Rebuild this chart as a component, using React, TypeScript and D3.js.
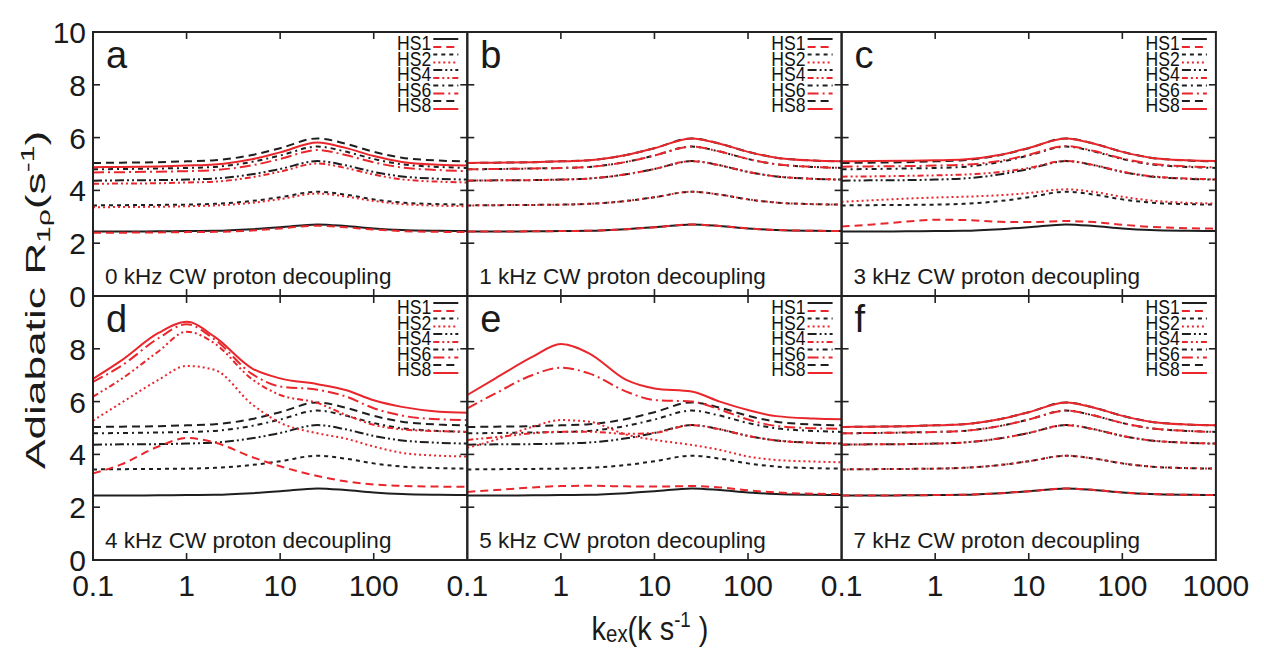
import React from 'react';
import * as d3 from 'd3';

// exchange-rate grid (k s^-1)
const KEX = [0.1, 0.2, 0.5, 1, 2, 5, 10, 25, 50, 100, 200, 500, 1000];

// black curves (same in every panel)
const BLACK_HS1 = [2.44, 2.44, 2.45, 2.46, 2.47, 2.53, 2.60, 2.71, 2.65, 2.56, 2.50, 2.47, 2.46];
const BLACK_HS2 = [3.43, 3.44, 3.45, 3.46, 3.49, 3.60, 3.74, 3.95, 3.84, 3.66, 3.54, 3.48, 3.46];
const BLACK_HS4 = [4.37, 4.38, 4.39, 4.41, 4.45, 4.61, 4.81, 5.11, 4.95, 4.70, 4.53, 4.44, 4.41];
const BLACK_HS6 = [4.80, 4.81, 4.83, 4.85, 4.89, 5.08, 5.32, 5.66, 5.47, 5.19, 4.99, 4.89, 4.85];
const BLACK_HS8 = [5.04, 5.05, 5.07, 5.10, 5.14, 5.34, 5.60, 5.97, 5.77, 5.46, 5.24, 5.13, 5.10];

// red curves, panel a (0 kHz)
const A_HS1 = [2.40, 2.40, 2.41, 2.42, 2.43, 2.48, 2.56, 2.66, 2.60, 2.52, 2.46, 2.43, 2.42];
const A_HS2 = [3.36, 3.37, 3.38, 3.40, 3.43, 3.53, 3.67, 3.88, 3.77, 3.60, 3.48, 3.42, 3.40];
const A_HS4 = [4.25, 4.26, 4.27, 4.30, 4.33, 4.50, 4.71, 5.02, 4.85, 4.60, 4.42, 4.33, 4.30];
const A_HS6 = [4.68, 4.69, 4.71, 4.73, 4.77, 4.95, 5.19, 5.53, 5.34, 5.06, 4.87, 4.77, 4.73];
const A_HS8 = [4.88, 4.89, 4.91, 4.94, 4.98, 5.18, 5.44, 5.81, 5.61, 5.30, 5.08, 4.97, 4.94];

// red curves, panel b (1 kHz) — coincide with black
const B_HS1 = [2.44, 2.44, 2.45, 2.46, 2.47, 2.53, 2.60, 2.71, 2.65, 2.56, 2.50, 2.47, 2.46];
const B_HS2 = [3.43, 3.44, 3.45, 3.46, 3.49, 3.60, 3.74, 3.95, 3.84, 3.66, 3.54, 3.48, 3.46];
const B_HS4 = [4.37, 4.38, 4.39, 4.41, 4.45, 4.61, 4.81, 5.11, 4.95, 4.70, 4.53, 4.44, 4.41];
const B_HS6 = [4.80, 4.81, 4.83, 4.85, 4.89, 5.08, 5.32, 5.66, 5.47, 5.19, 4.99, 4.89, 4.85];
const B_HS8 = [5.04, 5.05, 5.07, 5.10, 5.14, 5.34, 5.60, 5.97, 5.77, 5.46, 5.24, 5.13, 5.10];

// red curves, panel c (3 kHz)
const C_HS1 = [2.63, 2.70, 2.82, 2.89, 2.88, 2.81, 2.80, 2.84, 2.80, 2.70, 2.62, 2.57, 2.55];
const C_HS2 = [3.57, 3.62, 3.69, 3.73, 3.76, 3.82, 3.90, 4.04, 3.94, 3.76, 3.62, 3.53, 3.50];
const C_HS4 = [4.52, 4.53, 4.55, 4.57, 4.60, 4.70, 4.85, 5.12, 4.96, 4.71, 4.54, 4.45, 4.42];
const C_HS6 = [4.90, 4.91, 4.92, 4.94, 4.97, 5.12, 5.35, 5.68, 5.49, 5.21, 5.01, 4.91, 4.87];
const C_HS8 = [5.10, 5.11, 5.12, 5.14, 5.17, 5.35, 5.61, 5.97, 5.77, 5.46, 5.24, 5.14, 5.11];

// red curves, panel d (4 kHz)
const D_HS1 = [3.28, 3.62, 4.30, 4.62, 4.45, 3.90, 3.55, 3.18, 2.98, 2.86, 2.81, 2.78, 2.77];
const D_HS2 = [5.28, 5.95, 6.82, 7.35, 7.20, 5.90, 5.20, 4.80, 4.60, 4.30, 4.06, 3.95, 3.92];
const D_HS4 = [6.19, 6.85, 7.90, 8.65, 8.20, 6.85, 6.25, 5.95, 5.50, 5.12, 4.95, 4.88, 4.86];
const D_HS6 = [6.75, 7.35, 8.40, 8.93, 8.35, 7.05, 6.57, 6.45, 6.20, 5.75, 5.47, 5.33, 5.30];
const D_HS8 = [6.86, 7.55, 8.60, 9.02, 8.45, 7.26, 6.88, 6.66, 6.44, 6.05, 5.80, 5.62, 5.58];

// red curves, panel e (5 kHz)
const E_HS1 = [2.58, 2.65, 2.75, 2.80, 2.81, 2.79, 2.78, 2.80, 2.75, 2.64, 2.56, 2.51, 2.50];
const E_HS2 = [4.25, 4.55, 5.05, 5.30, 5.24, 4.75, 4.55, 4.36, 4.17, 3.92, 3.79, 3.73, 3.70];
const E_HS4 = [4.55, 4.65, 4.80, 4.86, 4.86, 4.78, 4.82, 5.11, 4.95, 4.70, 4.53, 4.44, 4.42];
const E_HS6 = [5.74, 6.31, 7.01, 7.28, 7.07, 6.38, 6.06, 6.00, 5.70, 5.32, 5.08, 4.99, 4.97];
const E_HS8 = [6.25, 6.88, 7.70, 8.18, 7.83, 6.82, 6.50, 6.38, 6.00, 5.68, 5.45, 5.36, 5.33];

// red curves, panel f (7 kHz) — coincide with black
const F_HS1 = [2.44, 2.44, 2.45, 2.46, 2.47, 2.53, 2.60, 2.71, 2.65, 2.56, 2.50, 2.47, 2.46];
const F_HS2 = [3.43, 3.44, 3.45, 3.46, 3.49, 3.60, 3.74, 3.95, 3.84, 3.66, 3.54, 3.48, 3.46];
const F_HS4 = [4.37, 4.38, 4.39, 4.41, 4.45, 4.61, 4.81, 5.11, 4.95, 4.70, 4.53, 4.44, 4.41];
const F_HS6 = [4.80, 4.81, 4.83, 4.85, 4.89, 5.08, 5.32, 5.66, 5.47, 5.19, 4.99, 4.89, 4.85];
const F_HS8 = [5.04, 5.05, 5.07, 5.10, 5.14, 5.34, 5.60, 5.97, 5.77, 5.46, 5.24, 5.13, 5.10];

const SERIES_LABELS = ['HS1', 'HS2', 'HS4', 'HS6', 'HS8'];
const PANEL_LETTERS = ['a', 'b', 'c', 'd', 'e', 'f'];
const PANEL_NOTES = [
  '0 kHz CW proton decoupling',
  '1 kHz CW proton decoupling',
  '3 kHz CW proton decoupling',
  '4 kHz CW proton decoupling',
  '5 kHz CW proton decoupling',
  '7 kHz CW proton decoupling',
];
const Y_TICKS = [0, 2, 4, 6, 8, 10];
const X_TICKS = [0.1, 1, 10, 100, 1000];
const X_TICK_LABELS = ['0.1', '1', '10', '100', '1000'];

const BLACK = [BLACK_HS1, BLACK_HS2, BLACK_HS4, BLACK_HS6, BLACK_HS8];
const RED = [
  [A_HS1, A_HS2, A_HS4, A_HS6, A_HS8],
  [B_HS1, B_HS2, B_HS4, B_HS6, B_HS8],
  [C_HS1, C_HS2, C_HS4, C_HS6, C_HS8],
  [D_HS1, D_HS2, D_HS4, D_HS6, D_HS8],
  [E_HS1, E_HS2, E_HS4, E_HS6, E_HS8],
  [F_HS1, F_HS2, F_HS4, F_HS6, F_HS8],
];

const BLACK_DASH = ['', '4,4', '9,3,2,3,2,3', '5,4,2,4', '8,5'];
const RED_DASH = ['8,5', '2,3', '6,3,2,3,2,3', '11,4,2,4', ''];
const BLACK_COLOR = '#1e1e1e';
const RED_COLOR = '#e8262b';
const FONT = '"Liberation Sans", Arial, sans-serif';

const LEFT = 93;
const PW = 374.3;
const TOP = 32;
const PH = 264;

export default function App() {
  const panels = PANEL_LETTERS.map((letter, i) => {
    const col = i % 3;
    const row = Math.floor(i / 3);
    const x0 = LEFT + col * PW;
    const y0 = TOP + row * PH;
    const x = d3.scaleLog().domain([0.1, 1000]).range([x0, x0 + PW]);
    const y = d3.scaleLinear().domain([0, 10]).range([y0 + PH, y0]);
    const line = d3
      .line<number>()
      .x((_, j) => x(KEX[j]))
      .y((v) => y(v))
      .curve(d3.curveMonotoneX);
    const right = x0 + PW;
    return (
      <g key={letter}>
        {BLACK.map((s, k) => (
          <path key={'b' + k} d={line(s) || ''} fill="none" stroke={BLACK_COLOR} strokeWidth={2} strokeDasharray={BLACK_DASH[k]} />
        ))}
        {RED[i].map((s, k) => (
          <path key={'r' + k} d={line(s) || ''} fill="none" stroke={RED_COLOR} strokeWidth={2} strokeDasharray={RED_DASH[k]} />
        ))}
        {/* ticks */}
        {Y_TICKS.slice(1, -1).map((t) => (
          <g key={'yt' + t}>
            <line x1={x0} x2={x0 + 7} y1={y(t)} y2={y(t)} stroke="#222" strokeWidth={1.6} />
            <line x1={right} x2={right - 7} y1={y(t)} y2={y(t)} stroke="#222" strokeWidth={1.6} />
          </g>
        ))}
        {X_TICKS.slice(1, -1).map((t) => (
          <g key={'xt' + t}>
            <line x1={x(t)} x2={x(t)} y1={y0 + PH} y2={y0 + PH - 7} stroke="#222" strokeWidth={1.6} />
            <line x1={x(t)} x2={x(t)} y1={y0} y2={y0 + 7} stroke="#222" strokeWidth={1.6} />
          </g>
        ))}
        <rect x={x0} y={y0} width={PW} height={PH} fill="none" stroke="#222" strokeWidth={2} />
        {/* panel letter */}
        <text x={x0 + 13} y={y0 + 36} fontFamily={FONT} fontSize={38} fill="#1a1a1a">
          {letter}
        </text>
        {/* note */}
        <text x={x0 + 12} y={y0 + PH - 12} fontFamily={FONT} fontSize={22.5} fill="#1a1a1a">
          {PANEL_NOTES[i]}
        </text>
        {/* legend */}
        {SERIES_LABELS.map((lab, k) => {
          const base = y0 + 18 + k * 15.5;
          return (
            <g key={'lg' + k}>
              <g transform={`translate(${right - 36},${base}) scale(0.84,1)`}>
                <text x={0} y={0} textAnchor="end" fontFamily={FONT} fontSize={21} fill="#111">
                  {lab}
                </text>
              </g>
              <line x1={right - 34} x2={right - 9} y1={base - 11} y2={base - 11} stroke={BLACK_COLOR} strokeWidth={2} strokeDasharray={BLACK_DASH[k]} />
              <line x1={right - 34} x2={right - 9} y1={base - 3} y2={base - 3} stroke={RED_COLOR} strokeWidth={2} strokeDasharray={RED_DASH[k]} />
            </g>
          );
        })}
        {/* y tick labels */}
        {col === 0 &&
          Y_TICKS.filter((t) => row === 0 || t < 10).map((t) => (
            <text key={'yl' + t} x={x0 - 7} y={y(t) + 11} textAnchor="end" fontFamily={FONT} fontSize={30} fill="#1a1a1a">
              {t}
            </text>
          ))}
        {/* x tick labels */}
        {row === 1 &&
          X_TICKS.filter((t) => t < 1000 || col === 2).map((t) => (
            <text key={'xl' + t} x={x(t)} y={596} textAnchor="middle" fontFamily={FONT} fontSize={30} fill="#1a1a1a">
              {X_TICK_LABELS[X_TICKS.indexOf(t)]}
            </text>
          ))}
      </g>
    );
  });

  return (
    <svg width={1264} height={648} style={{ position: 'absolute', left: 0, top: 0, background: '#fff' }}>
      <rect width={1264} height={648} fill="#fff" />
      {panels}
      {/* y title */}
      <g transform="translate(45,300) rotate(-90) scale(1.58,1)">
        <text textAnchor="middle" fontFamily={FONT} fontSize={28} fill="#1a1a1a">
          Adiabatic R
          <tspan fontSize={19} dy={5}>1ρ</tspan>
          <tspan fontSize={28} dy={-5}>(s</tspan>
          <tspan fontSize={19} dy={-11}>-1</tspan>
          <tspan fontSize={28} dy={11}>)</tspan>
        </text>
      </g>
      {/* x title */}
      <g transform="translate(650,640) scale(0.85,1)">
        <text textAnchor="middle" fontFamily={FONT} fontSize={34} fill="#1a1a1a">
          k<tspan fontSize={24} dy={2}>ex</tspan>
          <tspan fontSize={34} dy={-2}>(k s</tspan>
          <tspan fontSize={22} dy={-13}>-1</tspan>
          <tspan fontSize={34} dy={13}> )</tspan>
        </text>
      </g>
    </svg>
  );
}
